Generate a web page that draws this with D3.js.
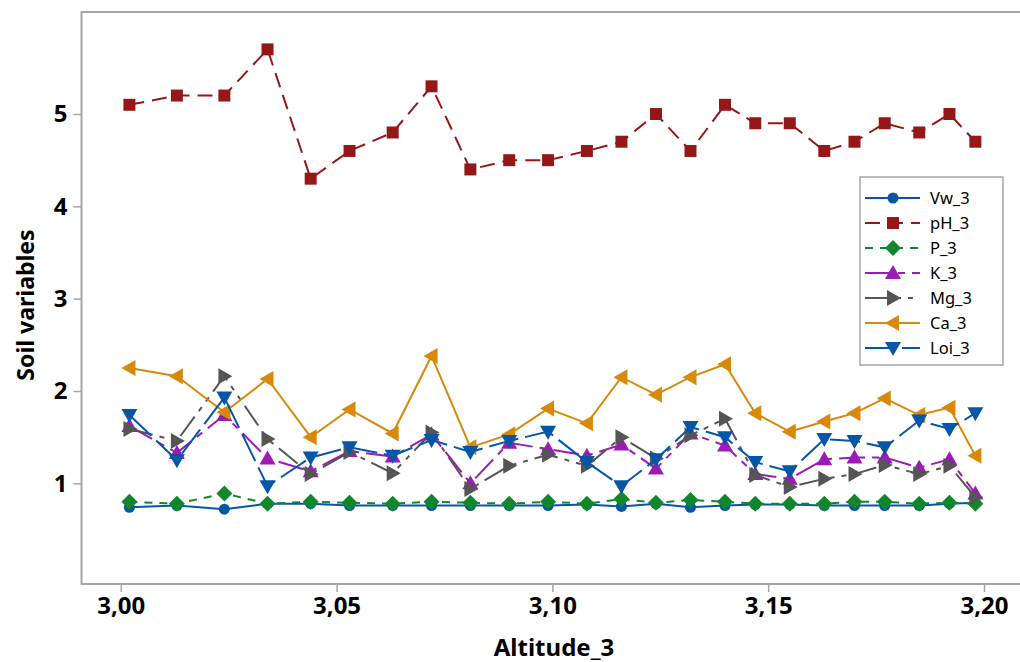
<!DOCTYPE html>
<html>
<head>
<meta charset="utf-8">
<script src="https://cdn.jsdelivr.net/npm/d3@7"></script>
<style>
  html, body { margin: 0; padding: 0; background: #fff; }
  svg { display: block; }
</style>
</head>
<body>
<svg id="chart" width="1020" height="662"></svg>
<script>
const altitude = [3.002, 3.013, 3.024, 3.034, 3.044, 3.053, 3.063, 3.072, 3.081, 3.090, 3.099, 3.108, 3.116, 3.124, 3.132, 3.140, 3.147, 3.155, 3.163, 3.170, 3.177, 3.185, 3.192, 3.198];
const Vw_3  = [0.74,0.76,0.72,0.78,0.78,0.76,0.76,0.76,0.76,0.76,0.76,0.77,0.75,0.78,0.74,0.76,0.77,0.77,0.76,0.76,0.76,0.76,0.78,0.79];
const pH_3  = [5.1,5.2,5.2,5.7,4.3,4.6,4.8,5.3,4.4,4.5,4.5,4.6,4.7,5.0,4.6,5.1,4.9,4.9,4.6,4.7,4.9,4.8,5.0,4.7];
const P_3   = [0.80,0.78,0.89,0.78,0.80,0.79,0.78,0.80,0.79,0.78,0.80,0.78,0.83,0.79,0.82,0.80,0.78,0.78,0.78,0.80,0.80,0.78,0.79,0.78];
const K_3   = [1.62,1.33,1.74,1.27,1.13,1.35,1.29,1.53,1.00,1.44,1.37,1.30,1.42,1.16,1.54,1.41,1.10,1.05,1.26,1.28,1.28,1.17,1.26,0.89];
const Mg_3  = [1.59,1.46,2.16,1.48,1.10,1.34,1.11,1.55,0.94,1.19,1.31,1.19,1.50,1.27,1.52,1.70,1.09,0.96,1.05,1.10,1.20,1.10,1.19,0.85];
const Ca_3  = [2.25,2.16,1.77,2.13,1.50,1.80,1.54,2.38,1.39,1.53,1.81,1.65,2.15,1.96,2.15,2.29,1.76,1.56,1.67,1.76,1.92,1.74,1.82,1.30];
const Loi_3 = [1.74,1.25,1.93,0.97,1.28,1.39,1.30,1.47,1.34,1.46,1.56,1.23,0.97,1.26,1.61,1.50,1.23,1.13,1.48,1.46,1.39,1.68,1.59,1.76];
const xTicks = [3.00, 3.05, 3.10, 3.15, 3.20];
const yTicks = [1, 2, 3, 4, 5];
const seriesNames = ["Vw_3", "pH_3", "P_3", "K_3", "Mg_3", "Ca_3", "Loi_3"];

const seriesData = [Vw_3, pH_3, P_3, K_3, Mg_3, Ca_3, Loi_3];
const styles = [
  {color: "#0656a8", dash: null,            marker: "circle"},
  {color: "#961717", dash: "15,8",          marker: "square"},
  {color: "#11862a", dash: "8,7",           marker: "diamond"},
  {color: "#9a1bb5", dash: "26,7,7,7",      marker: "up"},
  {color: "#555555", dash: "24,7,5,7,5,7",  marker: "right"},
  {color: "#d6890a", dash: null,            marker: "left"},
  {color: "#0656a8", dash: "30,7",          marker: "down"}
];

const svg = d3.select("#chart");
const L = 81.5, T = 12, R = 1030, B = 584;
const x = d3.scaleLinear().domain([2.9909, 3.0 + (R - 121) / 4315]).range([L, R]);
const y = d3.scaleLinear().domain([-0.09, 6.105]).range([B, T]);
const loc = d3.formatLocale({decimal: ",", thousands: ".", grouping: [3], currency: ["", ""]});
const fmt = loc.format(".2f");

const font = "'Noto Sans', 'Open Sans', sans-serif";

// axes
const xAxis = svg.append("g").attr("transform", `translate(0,${B})`)
  .call(d3.axisBottom(x).tickValues(xTicks).tickFormat(fmt).tickSize(8).tickPadding(5));
const yAxis = svg.append("g").attr("transform", `translate(${L},0)`)
  .call(d3.axisLeft(y).tickValues(yTicks).tickFormat(d3.format("d")).tickSize(8).tickPadding(6));
[xAxis, yAxis].forEach(g => {
  g.select(".domain").remove();
  g.selectAll(".tick line").attr("stroke", "#a6a6a6").attr("stroke-width", 1.5);
  g.selectAll(".tick text").attr("fill", "#000").style("font-family", font)
    .style("font-weight", "700").style("font-size", "24px");
});

// frame
svg.append("rect").attr("x", L).attr("y", T).attr("width", R - L).attr("height", B - T)
  .attr("fill", "none").attr("stroke", "#a6a6a6").attr("stroke-width", 2);

// titles
svg.append("text").attr("x", 554).attr("y", 656).attr("text-anchor", "middle")
  .style("font-family", font).style("font-weight", "700").style("font-size", "24px")
  .text("Altitude_3");
svg.append("text").attr("transform", "translate(34,305) rotate(-90)").attr("text-anchor", "middle")
  .style("font-family", font).style("font-weight", "700").style("font-size", "23px")
  .text("Soil variables");

function markerPath(type) {
  switch (type) {
    case "circle": return d3.symbol().type(d3.symbolCircle).size(95)();
    case "square": return `M-6,-6H6V6H-6Z`;
    case "diamond": return `M0,-8L8,0L0,8L-8,0Z`;
    case "up": return `M0,-8L8,6L-8,6Z`;
    case "down": return `M0,8L8,-6L-8,-6Z`;
    case "right": return `M8,0L-6,-8L-6,8Z`;
    case "left": return `M-8,0L6,-8L6,8Z`;
  }
}

const line = d3.line().x(d => x(d[0])).y(d => y(d[1]));

seriesData.forEach((vals, i) => {
  const st = styles[i];
  const pts = altitude.map((a, j) => [a, vals[j]]);
  const g = svg.append("g");
  g.append("path").datum(pts).attr("d", line).attr("fill", "none")
    .attr("stroke", st.color).attr("stroke-width", 2)
    .attr("stroke-dasharray", st.dash);
  g.selectAll("path.m").data(pts).enter().append("path").attr("class", "m")
    .attr("transform", d => `translate(${x(d[0])},${y(d[1])})`)
    .attr("d", markerPath(st.marker)).attr("fill", st.color);
});

// legend
const lg = svg.append("g");
lg.append("rect").attr("x", 860).attr("y", 177).attr("width", 143).attr("height", 188)
  .attr("fill", "#fff").attr("stroke", "#a6a6a6").attr("stroke-width", 1.5);
seriesNames.forEach((name, i) => {
  const st = styles[i];
  const yy = 198 + i * 25;
  lg.append("line").attr("x1", 865).attr("x2", 920).attr("y1", yy).attr("y2", yy)
    .attr("stroke", st.color).attr("stroke-width", 2).attr("stroke-dasharray", st.dash);
  lg.append("path").attr("transform", `translate(893,${yy})`).attr("d", markerPath(st.marker)).attr("fill", st.color);
  lg.append("text").attr("x", 930).attr("y", yy + 6).style("font-family", font)
    .style("font-size", "16.5px").attr("fill", "#000").text(name);
});
</script>
</body>
</html>
